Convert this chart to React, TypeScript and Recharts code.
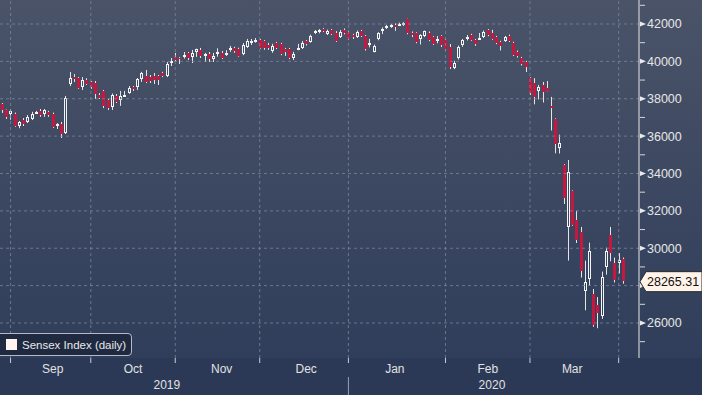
import { ComposedChart, Bar, XAxis, YAxis, ReferenceLine } from "recharts";

// Sensex daily candles, 29 Aug 2019 .. 1 Apr 2020 (trading days)
const opens = [
  37720, 37400, 37190, 37190, 36540, 36860, 36760, 36920, 37240, 37350,
  37190, 37300, 37190, 36540, 36650, 36170, 38790, 39160, 39110, 38630,
  39000, 38900, 38840, 38200, 38420, 37930, 37560, 38150, 37930, 38150,
  38310, 38630, 38630, 39060, 39220, 39160, 39220, 39220, 39380, 39220,
  39910, 40230, 40180, 40290, 40450, 40230, 40500, 40610, 40340, 40400,
  40130, 40380, 40460, 40410, 40620, 40730, 40650, 40380, 40790, 41040,
  41090, 41140, 41090, 40880, 40560, 40980, 40930, 40660, 40660, 40180,
  40610, 40720, 41090, 41040, 41520, 41570, 41730, 41470, 41680, 41530,
  41290, 41680, 41590, 41410, 41290, 41630, 41360, 40880, 40520, 41180,
  41630, 41790, 41840, 41950, 41950, 41950, 42250, 41520, 41520, 41200,
  41360, 41530, 41290, 41110, 41360, 41140, 40790, 39630, 40160, 40880,
  41200, 41410, 41140, 41180, 41290, 41680, 41500, 41320, 41050, 41110,
  41360, 41000, 40520, 40160, 39980, 39100, 38850, 38420, 38740, 38600,
  37610, 36920, 35390, 34460, 31140, 33060, 31510, 30870, 27710, 28380,
  27550, 26970, 26380, 29020, 30700, 29210, 29210, 29430,
];
const highs = [
  37770, 37420, 37450, 37260, 36810, 36970, 37130, 37300, 37350, 37450,
  37450, 37350, 37260, 36700, 36760, 38150, 39430, 39320, 39160, 39160,
  39100, 38950, 38950, 38300, 38470, 38000, 38280, 38250, 38420, 38420,
  38680, 38680, 39110, 39440, 39540, 39270, 39380, 39270, 39440, 39970,
  40180, 40450, 40230, 40500, 40500, 40610, 40680, 40720, 40450, 40500,
  40450, 40700, 40560, 40600, 40830, 40780, 40730, 40980, 41200, 41200,
  41250, 41200, 41140, 40990, 40940, 41040, 40990, 40720, 40720, 40510,
  40940, 41090, 41140, 41430, 41680, 41730, 41780, 41700, 41730, 41620,
  41680, 41760, 41640, 41470, 41650, 41680, 41410, 41200, 40900, 41560,
  41820, 41950, 42000, 42030, 42070, 42100, 42280, 41600, 41560, 41450,
  41650, 41600, 41350, 41360, 41400, 41200, 40930, 40030, 40850, 41200,
  41410, 41470, 41200, 41520, 41650, 41730, 41690, 41360, 41100, 41360,
  41430, 41050, 40580, 40240, 40030, 39150, 39100, 38740, 38900, 38950,
  38100, 36950, 36080, 34500, 34720, 33100, 32000, 31140, 29340, 30300,
  27820, 27390, 28750, 30030, 31140, 29500, 29740, 29500,
];
const lows = [
  37240, 36920, 36880, 36500, 36420, 36540, 36700, 36860, 37200, 37030,
  37030, 37030, 36440, 36380, 35900, 36110, 38680, 38900, 38530, 38470,
  38740, 38530, 37990, 37990, 37500, 37400, 37400, 37770, 37620, 38100,
  38260, 38420, 38470, 38900, 38840, 38840, 38790, 38740, 39160, 39160,
  39750, 40020, 39860, 40150, 40070, 39910, 40240, 40180, 39970, 39970,
  39970, 40250, 40130, 40290, 40510, 40460, 40250, 40330, 40720, 40880,
  41000, 40680, 40620, 40620, 40460, 40660, 40330, 40290, 40120, 40070,
  40600, 40660, 40850, 41000, 41460, 41500, 41570, 41410, 41410, 41040,
  41250, 41450, 41150, 41200, 41250, 41300, 40580, 40750, 40480, 41130,
  41460, 41730, 41790, 41630, 41890, 41900, 41450, 41300, 40970, 40900,
  41300, 41080, 40880, 40970, 40770, 40600, 39590, 39580, 40100, 40780,
  41120, 41100, 40830, 41170, 41250, 41350, 41150, 40920, 40580, 41040,
  41040, 40290, 40200, 39780, 39430, 38200, 37700, 37960, 37800, 38400,
  36300, 35080, 35070, 32370, 29340, 31200, 30280, 28430, 26680, 28010,
  25800, 25720, 26220, 28590, 29300, 28170, 28650, 28100,
];
const closes = [
  37400, 37030, 37340, 36560, 36760, 36650, 37030, 37190, 37300, 37130,
  37400, 37130, 36490, 36650, 36110, 38040, 39110, 39060, 38580, 39000,
  38790, 38630, 38260, 38040, 37610, 37500, 38200, 37830, 38150, 38200,
  38580, 38520, 39060, 39380, 38900, 38950, 39000, 39000, 39220, 39860,
  40020, 40070, 40120, 40340, 40180, 40450, 40660, 40290, 40400, 40120,
  40300, 40520, 40200, 40460, 40730, 40560, 40300, 40880, 41090, 41090,
  41140, 40730, 40720, 40720, 40820, 40720, 40400, 40500, 40180, 40400,
  40720, 40980, 40930, 41360, 41620, 41680, 41630, 41640, 41470, 41110,
  41590, 41530, 41200, 41290, 41590, 41360, 40650, 41000, 40820, 41500,
  41730, 41890, 41950, 41840, 42000, 42050, 41500, 41410, 41040, 41410,
  41630, 41140, 40930, 41180, 40880, 40650, 39720, 39930, 40790, 41140,
  41320, 41140, 40930, 41230, 41590, 41410, 41180, 40970, 40820, 41320,
  41110, 40340, 40290, 39860, 39720, 38300, 38100, 38630, 38360, 38420,
  37510, 35580, 35640, 32690, 34080, 31250, 30440, 28780, 28200, 29860,
  25870, 26540, 28460, 29860, 29770, 28300, 29370, 28265.31,
];

const monthNames = ["Sep", "Oct", "Nov", "Dec", "Jan", "Feb", "Mar"];
const monthAt = [12, 31, 52, 72, 93, 115, 135];
const monthEdges = [2, 21, 41, 61, 82, 105, 125, 146];
const yearNames = ["2019", "2020"];
const yearAt = [39, 116];
const yearEdge = 82;
const priceLines = [26000, 28000, 30000, 32000, 34000, 36000, 38000, 40000, 42000];
const minorTicks = [25000, 27000, 29000, 31000, 33000, 35000, 37000, 39000, 41000, 43000];

const data = closes.map((close, i) => ({
  i,
  open: opens[i],
  high: highs[i],
  low: lows[i],
  close,
}));
const lastClose = closes[closes.length - 1];

const RED = "#c8173e";
const WICK = "#e4e4e4";
const GRID = "#7d889e";
const FONT = "'Liberation Sans', Arial, sans-serif";

function Candle(props: any) {
  const { x, y, width, height, payload } = props;
  if (payload == null || height == null) return null;
  const { open, close, high, low } = payload;
  const k = height / (high - low || 1);
  const c0 = Math.floor(x + width / 2);
  const wx = c0 + 0.5;
  const yo = y + (high - open) * k;
  const yc = y + (high - close) * k;
  const top = Math.round(Math.min(yo, yc));
  const bot = Math.round(Math.max(yo, yc));
  const h = Math.max(1, bot - top);
  const up = close >= open;
  return (
    <g>
      <line x1={wx} x2={wx} y1={y} y2={top} stroke={WICK} strokeWidth={1} />
      <line x1={wx} x2={wx} y1={top + h} y2={y + height} stroke={WICK} strokeWidth={1} />
      {up ? (
        <rect x={c0 - 0.5} y={top + 0.5} width={2} height={Math.max(1, h - 1)} fill="none" stroke="#f4f4f4" strokeWidth={1} />
      ) : (
        <rect x={c0 - 1} y={top} width={3} height={h} fill={RED} />
      )}
    </g>
  );
}

function XTick(props: any) {
  const { x, y, payload } = props;
  const v = payload.value;
  const m = monthAt.indexOf(v);
  const yr = yearAt.indexOf(v);
  if (monthEdges.includes(v)) {
    return (
      <g>
        <line x1={x} x2={x} y1={y} y2={y + 5} stroke="#c9ced8" />
        {v === yearEdge && <line x1={x} x2={x} y1={y + 19} y2={y + 37} stroke="#9aa3b4" />}
      </g>
    );
  }
  if (m >= 0) {
    return (
      <text x={x} y={y + 15} textAnchor="middle" fill="#e2e2e2" fontSize={12} fontFamily={FONT}>
        {monthNames[m]}
      </text>
    );
  }
  if (yr >= 0) {
    return (
      <text x={x} y={y + 31} textAnchor="middle" fill="#e2e2e2" fontSize={12} fontFamily={FONT}>
        {yearNames[yr]}
      </text>
    );
  }
  return null;
}

function YTick(props: any) {
  const { x, y, payload } = props;
  const v = payload.value;
  if (v === lastClose) {
    return (
      <g>
        <polygon
          points={`${x + 1},${y + 1} ${x + 7},${y - 9} ${x + 63},${y - 9} ${x + 63},${y + 11} ${x + 7},${y + 11}`}
          fill="#fff3ea"
          stroke="#2a2a2a"
          strokeWidth={1}
        />
        <text x={x + 8} y={y + 5.5} fill="#111" fontSize={12.5} fontFamily={FONT}>
          {v.toFixed(2)}
        </text>
      </g>
    );
  }
  if (v % 2000 === 0) {
    return (
      <g>
        <polygon points={`${x + 1},${y - 2.5} ${x + 7},${y} ${x + 1},${y + 2.5}`} fill="#eaeaea" />
        <text x={x + 8} y={y + 4.5} fill="#e6e6e6" fontSize={12.5} fontFamily={FONT}>
          {v}
        </text>
      </g>
    );
  }
  return <line x1={x + 1} x2={x + 6} y1={y} y2={y} stroke="#d8d8d8" />;
}

export default function App() {
  return (
    <div
      style={{
        position: "absolute",
        left: 0,
        top: 0,
        width: 702,
        height: 395,
        overflow: "hidden",
        background: "linear-gradient(to bottom, #4a5368 0px, #303e5b 358px, #2b3956 358px, #2b3956 395px)",
        fontFamily: FONT,
      }}
    >
      <ComposedChart width={702} height={395} data={data} margin={{ top: 0, right: 0, bottom: 0, left: 0 }}>
        {priceLines.map((v) => (
          <ReferenceLine key={`h${v}`} y={v} stroke={GRID} strokeOpacity={0.75} strokeDasharray="3 3" />
        ))}
        {monthEdges.map((v) => (
          <ReferenceLine key={`v${v}`} x={v} stroke={GRID} strokeOpacity={0.75} strokeDasharray="3 3" />
        ))}
        <XAxis
          dataKey="i"
          type="category"
          ticks={[...monthEdges, ...monthAt, ...yearAt]}
          interval={0}
          tickLine={false}
          axisLine={false}
          tickSize={0}
          tickMargin={0}
          height={37}
          padding={{ left: 0, right: 14 }}
          tick={<XTick />}
        />
        <YAxis
          orientation="right"
          type="number"
          domain={[24127, 43284]}
          allowDataOverflow
          ticks={[...minorTicks, ...priceLines, lastClose]}
          interval={0}
          tickLine={false}
          tickSize={0}
          tickMargin={0}
          width={63}
          axisLine={{ stroke: "#e6e6e6" }}
          tick={<YTick />}
        />
        <Bar
          dataKey={(d: any) => [d.low, d.high]}
          barSize={3}
          shape={(p: any) => <Candle {...p} />}
          isAnimationActive={false}
        />
      </ComposedChart>
      <div
        style={{
          position: "absolute",
          left: -4,
          top: 333,
          width: 136,
          height: 23,
          boxSizing: "border-box",
          border: "1px solid #b4bac6",
          borderRadius: 4,
          background: "#1f2a41",
          display: "flex",
          alignItems: "center",
        }}
      >
        <span style={{ width: 11, height: 11, background: "#fff5f0", marginLeft: 9, display: "inline-block" }} />
        <span style={{ color: "#e8e8e8", fontSize: 11.5, marginLeft: 5, whiteSpace: "nowrap" }}>
          Sensex Index (daily)
        </span>
      </div>
    </div>
  );
}
